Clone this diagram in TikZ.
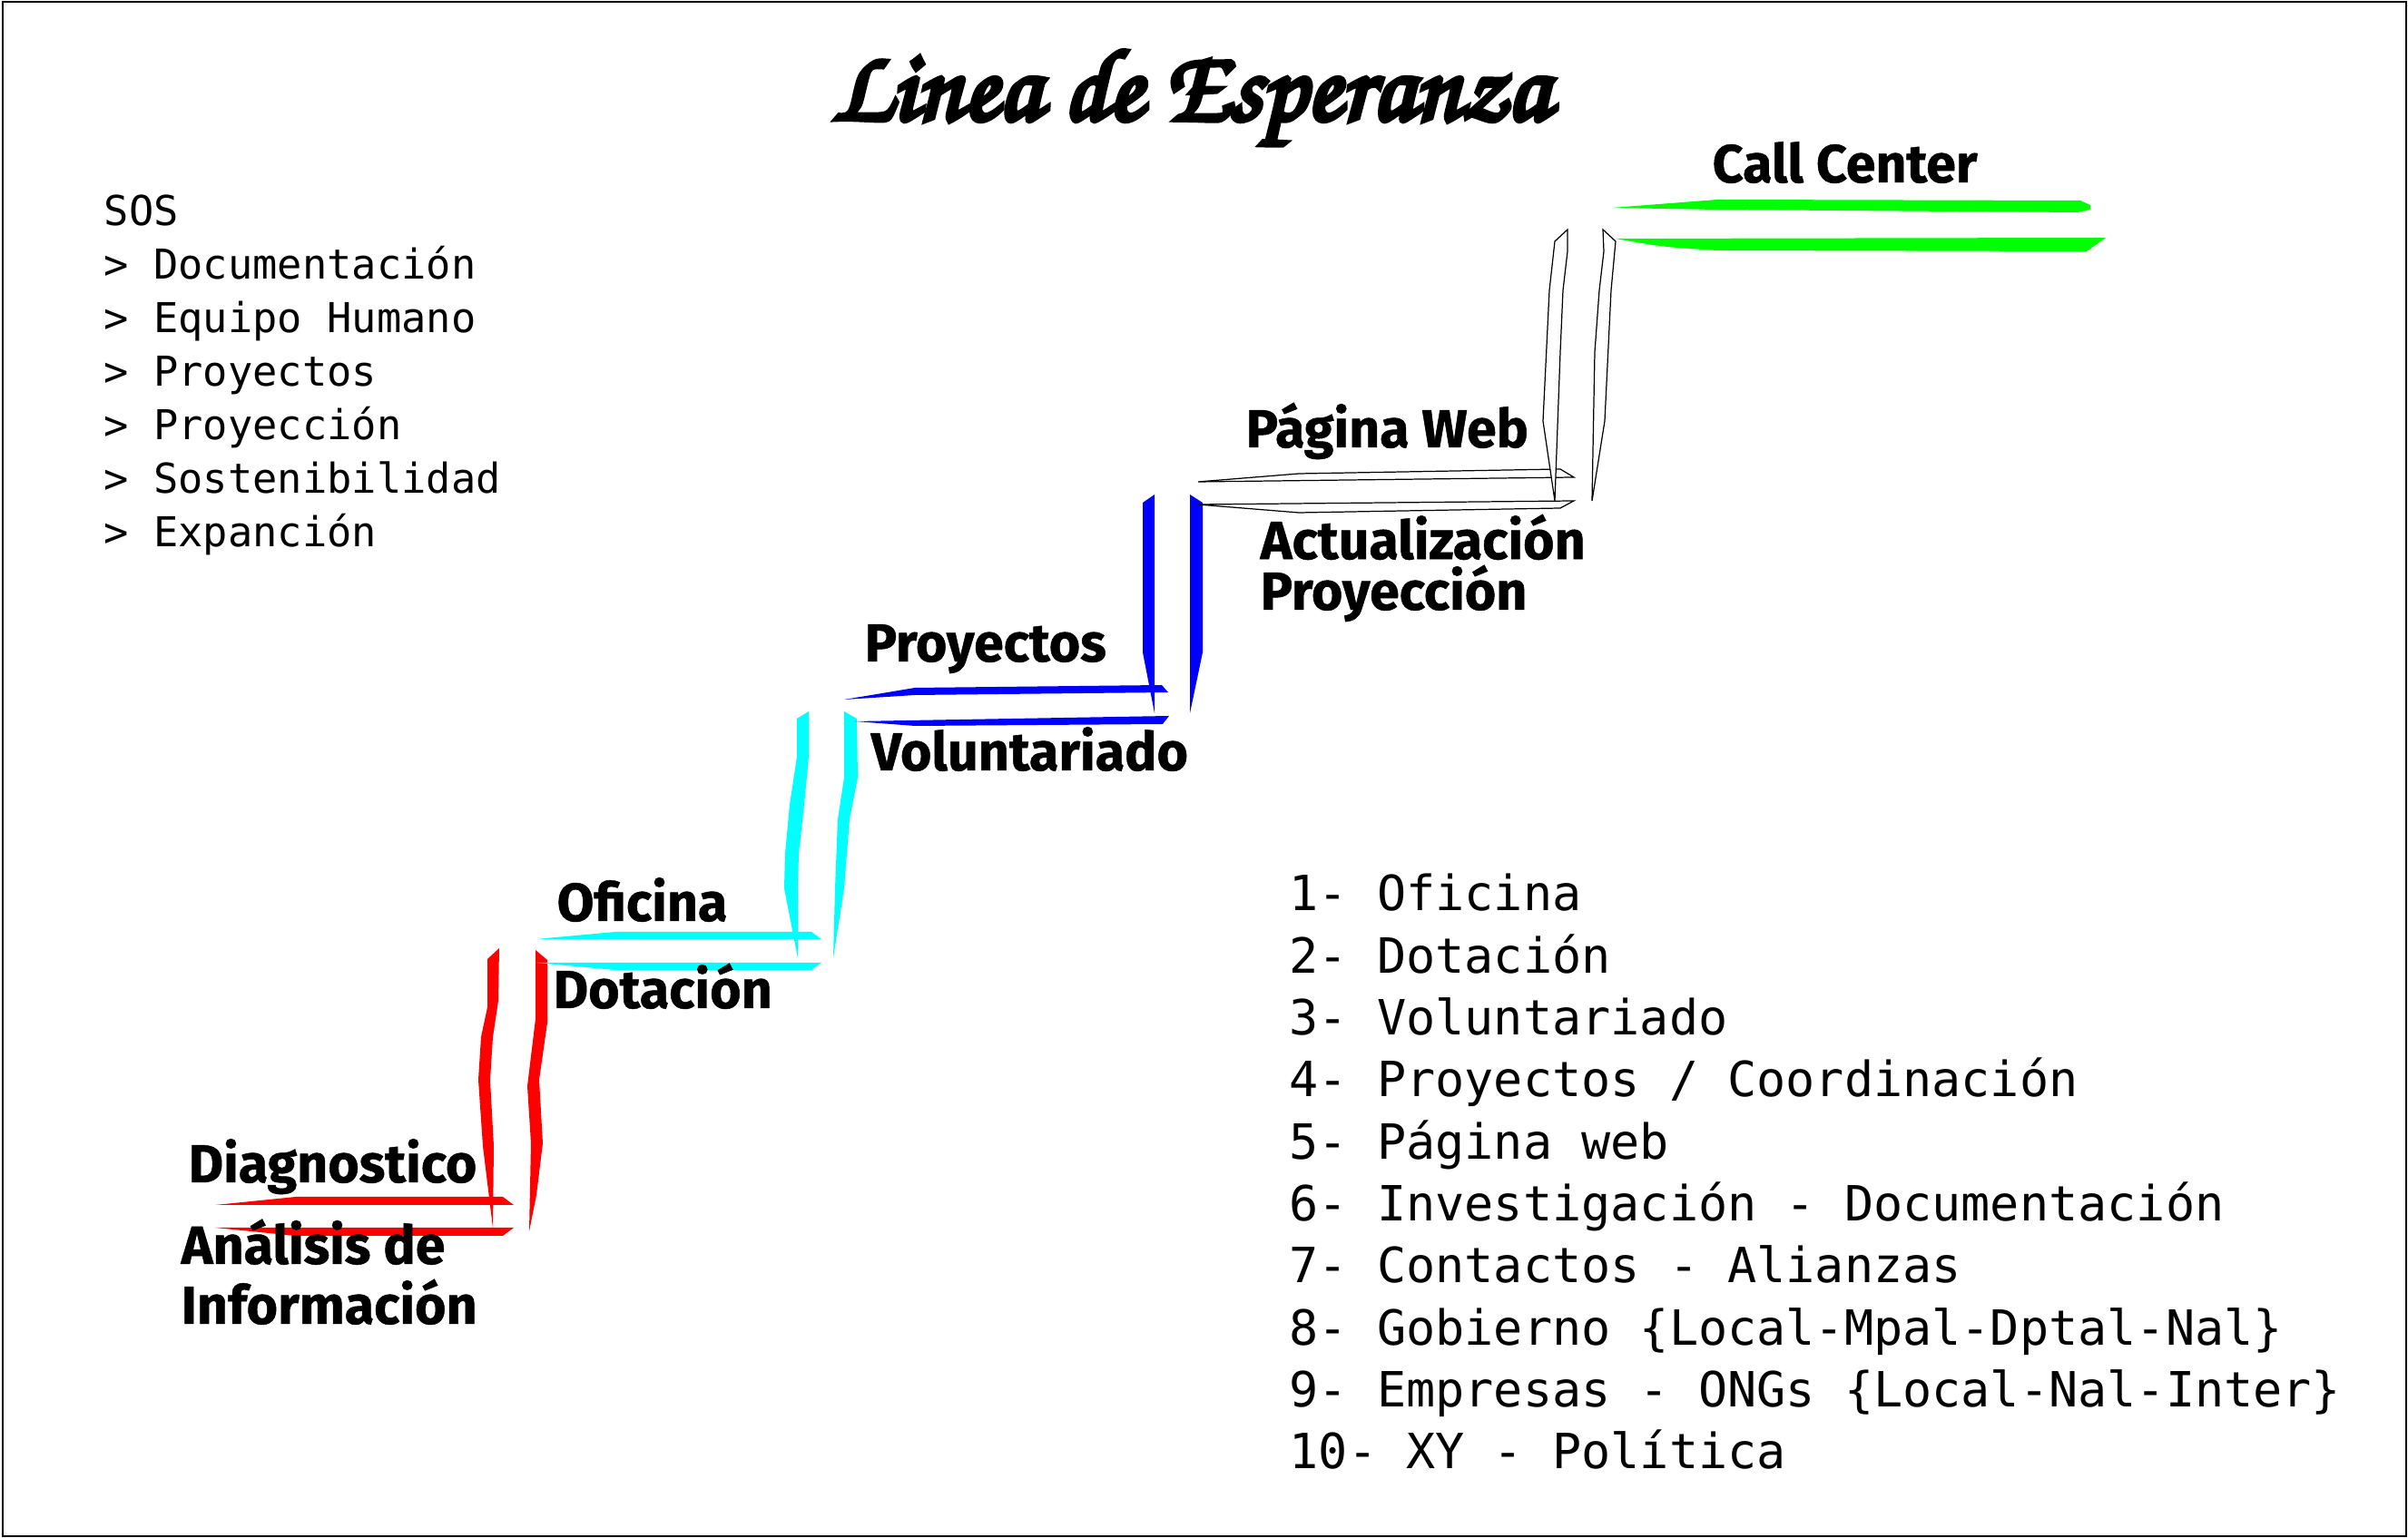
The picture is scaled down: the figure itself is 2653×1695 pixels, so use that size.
\documentclass[tikz,border=0pt]{standalone}
\usepackage[T1]{fontenc}
\usepackage{fontspec}
\usepackage{tikz}
\usetikzlibrary{positioning}
\newfontfamily\labelfont{Fira Sans}[BoldFeatures={FakeBold=0.8}]
\newfontfamily\listfont{DejaVu Sans Mono}
\newcommand{\hopefont}{\fontencoding{T1}\fontfamily{pzc}\fontseries{mb}\fontshape{it}\selectfont}
\newcommand{\heavytext}[1]{\special{pdf:literal direct 2 Tr 1.6 w}#1\special{pdf:literal direct 0 Tr 0.4 w}}
\definecolor{stepred}{RGB}{255,0,0}
\definecolor{stepcyan}{RGB}{0,255,255}
\definecolor{stepblue}{RGB}{0,0,255}
\definecolor{stepgreen}{RGB}{0,255,0}

\begin{document}
\begin{tikzpicture}[
    x=0.01cm, y=-0.01cm,
    redbar/.style={fill=stepred},
    cyanbar/.style={fill=stepcyan},
    bluebar/.style={fill=stepblue},
    greenbar/.style={fill=stepgreen},
    webbar/.style={fill=white, draw=black, line width=0.35pt},
    lbl/.style={
        font=\labelfont\bfseries\fontsize{16.8}{18}\selectfont,
        inner sep=0pt, anchor=base west, align=left
    },
    sostxt/.style={
        font=\listfont\fontsize{12.9}{15}\selectfont,
        inner sep=0pt, anchor=base west
    },
    itemtxt/.style={
        font=\listfont\fontsize{15.2}{18}\selectfont,
        inner sep=0pt, anchor=base west
    }
]
\useasboundingbox (0,0) rectangle (2653,1695);

% Frame
\draw[line width=0.8pt] (3,2) rectangle (2651,1693);

% Title
\node[font=\hopefont\fontsize{32}{36}\selectfont, anchor=base, inner sep=0pt] (title) at (1312,132) {\heavytext{Linea de Esperanza}};

% Lists
\foreach \txt [count=\i] in {SOS, > Documentación, > Equipo Humano, > Proyectos,
    > Proyección, > Sostenibilidad, > Expanción}
  \node[sostxt] (sos\i) at (114,{249+59*(\i-1)}) {\txt};

\foreach \txt [count=\i] in {1- Oficina, 2- Dotación, 3- Voluntariado,
    4- Proyectos / Coordinación, 5- Página web,
    6- Investigación - Documentación, 7- Contactos - Alianzas,
    8- Gobierno \{Local-Mpal-Dptal-Nal\}, 9- Empresas - ONGs \{Local-Nal-Inter\},
    10- XY - Política}
  \node[itemtxt] (item\i) at (1420,{1004+68.3*(\i-1)}) {\txt};

% Steps: red
\fill[redbar] (237,1328) -- (326,1319) -- (554,1319) -- (566,1328) -- cycle;
\fill[redbar] (237,1353) -- (566,1353) -- (554,1362) -- (326,1362) -- cycle;
\fill[redbar] (550,1045) -- (537,1057) -- (537,1110) -- (530,1143) -- (527,1190) -- (532,1263)
    -- (543,1353) -- (544,1263) -- (540,1190) -- (543,1143) -- (549,1103) -- cycle;
\fill[redbar] (590,1047) -- (603,1058) -- (603,1127) -- (594,1190) -- (598,1260) -- (591,1317)
    -- (583,1357) -- (585,1260) -- (581,1197) -- (590,1123) -- cycle;

% Steps: cyan
\fill[cyanbar] (591,1035) -- (678,1027) -- (894,1027) -- (905,1035) -- cycle;
\fill[cyanbar] (591,1061) -- (905,1061) -- (894,1069) -- (678,1069) -- cycle;
\fill[cyanbar] (891,784) -- (878,792) -- (878,834) -- (870,887) -- (865,941) -- (864,979)
    -- (879,1056) -- (879,979) -- (880,941) -- (886,887) -- (891,834) -- cycle;
\fill[cyanbar] (930,784) -- (944,792) -- (945,857) -- (936,903) -- (930,979)
    -- (918,1056) -- (920,979) -- (923,903) -- (930,857) -- cycle;

% Steps: blue
\fill[bluebar] (930,771) -- (1008,758) -- (1280,755) -- (1287,763) -- (1008,766) -- cycle;
\fill[bluebar] (942,795) -- (1288,789) -- (1281,798) -- (1008,800) -- cycle;
\fill[bluebar] (1272,545) -- (1259,554) -- (1259,719) -- (1272,786) -- cycle;
\fill[bluebar] (1311,545) -- (1325,554) -- (1325,719) -- (1311,786) -- cycle;

% Steps: web
\filldraw[webbar] (1320,531) -- (1431,522) -- (1719,517) -- (1734,526) -- cycle;
\filldraw[webbar] (1320,556) -- (1734,552) -- (1719,560) -- (1431,565) -- cycle;
\filldraw[webbar] (1727,253) -- (1713,266) -- (1707,320) -- (1700,464) -- (1713,552)
    -- (1719,388) -- (1722,320) -- (1727,277) -- cycle;
\filldraw[webbar] (1766,253) -- (1780,266) -- (1775,320) -- (1768,464) -- (1754,552)
    -- (1757,388) -- (1762,320) -- (1767,277) -- cycle;

% Steps: green
\fill[greenbar] (1776,229) -- (1892,220) -- (2292,221) -- (2303,226) -- (2303,231)
    -- (2289,234) -- (1892,231) -- cycle;
\fill[greenbar] (1780,263) -- (2320,262) -- (2299,277) -- (1892,276)
    .. controls (1830,272) .. (1780,263) -- cycle;

% Labels
\node[lbl] (diag) at (207,1303) {Diagnostico};
\node[lbl] (anal) at (199,1459) {Análisis de\\[0.8pt]Información};
\node[lbl] (ofic) at (613,1015) {Oficina};
\node[lbl] (dota) at (609,1111) {Dotación};
\node[lbl] (proy) at (952,729) {Proyectos};
\node[lbl] (volu) at (959,849) {Voluntariado};
\node[lbl] (web) at (1372,493) {Página Web};
\node[lbl] (actu) at (1388,672) {Actualización\\[-2.1pt]Proyección};
\node[lbl] (call) at (1886,201) {Call Center};

\end{tikzpicture}
\end{document}
